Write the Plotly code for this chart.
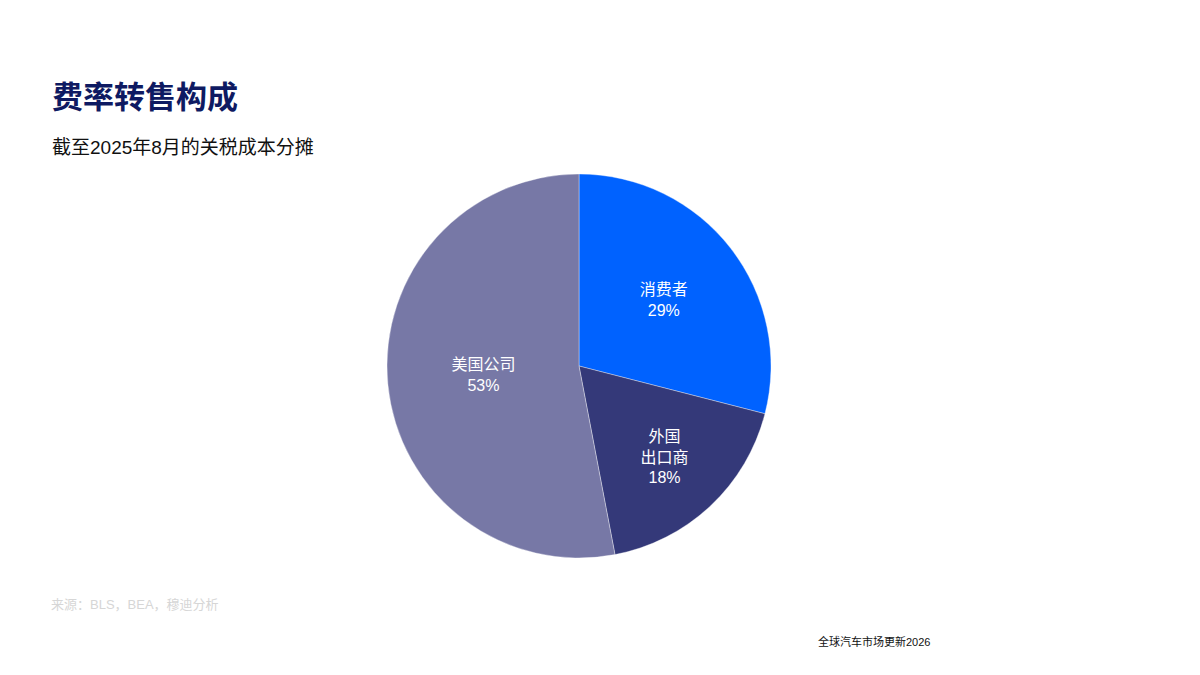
import plotly.graph_objects as go

# tariff pass-through shares, Aug 2025
labels = ['消费者', '外国<br>出口商', '美国公司']
shares = [29, 18, 53]
colors = ['#0062FF', '#343979', '#7778A6']

title = '费率转售构成'
subtitle = '截至2025年8月的关税成本分摊'
source = '来源：BLS，BEA，穆迪分析'
footer = '全球汽车市场更新2026'

FONT = 'Liberation Sans, Arial, Noto Sans CJK SC'

# page body has an 8px margin, so positions below are pulled back by that
W, H = 1200, 675
OFF = 8


def px_x(x):
    return (x - OFF) / W


def px_y(y):
    return 1 - (y - OFF) / H


fig = go.Figure()
fig.add_trace(go.Pie(
    labels=labels,
    values=shares,
    sort=False,
    direction='clockwise',
    rotation=0,
    marker=dict(colors=colors, line=dict(color='rgba(255,255,255,0.6)', width=0.6)),
    texttemplate='%{label}<br>%{percent:.0%}',
    textposition='inside',
    insidetextorientation='horizontal',
    textfont=dict(family=FONT, size=16, color='white'),
    hoverinfo='label+percent',
    domain=dict(x=[px_x(387), px_x(771)], y=[px_y(558), px_y(174)]),
    showlegend=False,
))

fig.update_layout(
    width=W, height=H,
    margin=dict(l=0, r=0, t=0, b=0),
    paper_bgcolor='white',
    plot_bgcolor='white',
    font=dict(family=FONT),
)

def note(text, x, y, size, color):
    fig.add_annotation(text=text, x=px_x(x - 2), y=px_y(y),
                       xref='paper', yref='paper', xanchor='left', yanchor='middle',
                       showarrow=False, font=dict(family=FONT, size=size, color=color))


note('<b>' + title + '</b>', 52, 97, 31, '#0E1A62')
note(subtitle, 52, 148, 19, '#111111')
note(source, 51, 604, 13, '#D6D6D6')
note(footer, 818, 641, 11, '#111111')

fig.write_html('out.html')
